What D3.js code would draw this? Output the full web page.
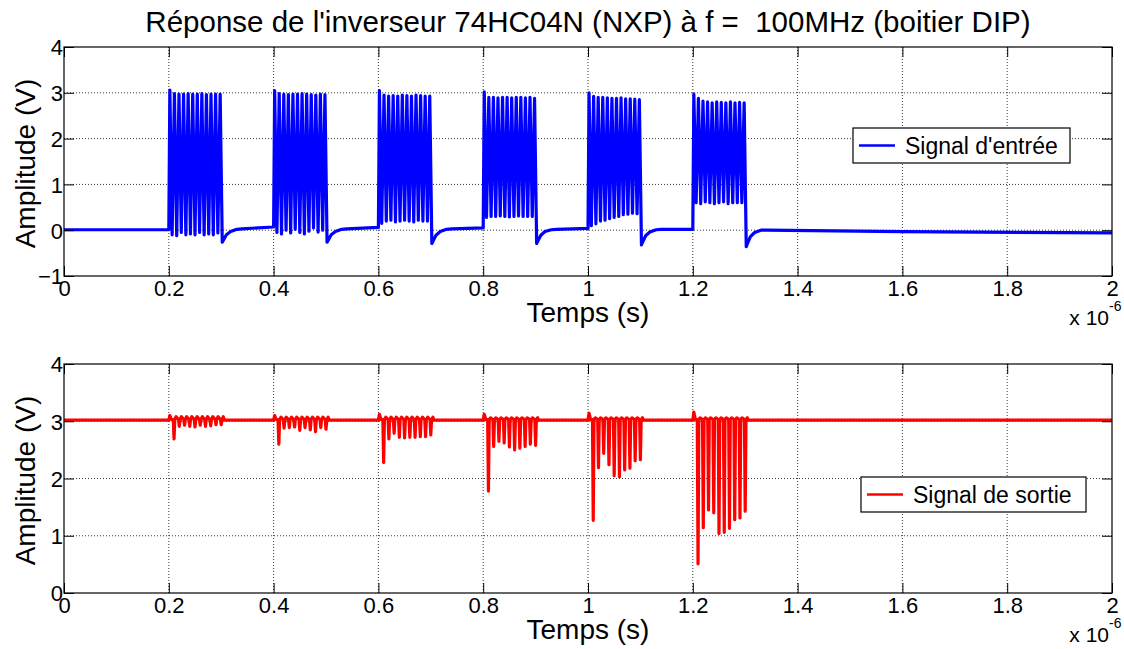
<!DOCTYPE html>
<html><head><meta charset="utf-8">
<script src="https://cdn.jsdelivr.net/npm/d3@7"></script>
<style>
body{margin:0;background:#fff}
svg{display:block}
text{font-family:"Liberation Sans",Arial,Helvetica,sans-serif;fill:#000}
</style>
</head><body>
<svg id="c" width="1124" height="649"></svg>
<script>
// ---------- DATA (time in units of 10^-6 s, amplitude in V) ----------
const titleText = "Réponse de l'inverseur 74HC04N (NXP) à f =  100MHz (boitier DIP)";
const xTickValues = [0, 0.2, 0.4, 0.6, 0.8, 1, 1.2, 1.4, 1.6, 1.8, 2];
const xTickLabels = ["0", "0.2", "0.4", "0.6", "0.8", "1", "1.2", "1.4", "1.6", "1.8", "2"];
const yTicksTop = [-1, 0, 1, 2, 3, 4];
const yTicksBottom = [0, 1, 2, 3, 4];

const burstStarts = [0.2, 0.4, 0.6, 0.8, 1.0, 1.2];
const burstLength = 0.1;

// input signal: peak (high) and trough (low) values inside each burst
const inputHighs = [
  [3.06, 2.98, 2.97, 2.97, 2.98, 2.97, 2.97, 2.98, 2.96, 2.97, 2.97, 2.97],
  [3.05, 2.98, 2.97, 2.96, 2.97, 2.97, 2.98, 2.97, 2.96, 2.95, 2.97, 2.96],
  [3.05, 2.95, 2.93, 2.94, 2.93, 2.95, 2.94, 2.93, 2.95, 2.94, 2.93, 2.93],
  [3.02, 2.90, 2.90, 2.89, 2.90, 2.90, 2.89, 2.90, 2.90, 2.89, 2.90, 2.88],
  [3.00, 2.92, 2.90, 2.90, 2.89, 2.88, 2.88, 2.89, 2.87, 2.87, 2.86, 2.85],
  [2.97, 2.88, 2.82, 2.80, 2.78, 2.80, 2.79, 2.78, 2.80, 2.78, 2.79, 2.78]
];
const inputLows = [
  [-0.10, -0.12, -0.05, -0.10, -0.08, -0.10, -0.05, -0.10, -0.08, -0.10, -0.06],
  [-0.05, -0.08, 0.00, -0.06, 0.02, -0.05, -0.08, -0.02, 0.05, -0.04, 0.00],
  [0.15, 0.20, 0.22, 0.18, 0.20, 0.22, 0.20, 0.18, 0.22, 0.20, 0.20],
  [0.28, 0.30, 0.30, 0.31, 0.30, 0.29, 0.30, 0.31, 0.30, 0.30, 0.30],
  [0.10, 0.14, 0.20, 0.22, 0.25, 0.28, 0.30, 0.34, 0.35, 0.37, 0.36],
  [0.60, 0.58, 0.62, 0.60, 0.58, 0.60, 0.62, 0.58, 0.60, 0.60, 0.60]
];
// undershoot and recovery after each burst end
const tailOffsets = [0.002, 0.005, 0.01, 0.018, 0.03];
const inputTails = [
  [-0.26, -0.20, -0.10, -0.03, 0.02],
  [-0.26, -0.20, -0.10, -0.03, 0.02],
  [-0.29, -0.22, -0.11, -0.03, 0.02],
  [-0.29, -0.22, -0.11, -0.03, 0.01],
  [-0.32, -0.24, -0.12, -0.04, 0.01],
  [-0.36, -0.27, -0.14, -0.05, 0.00]
];
// input baseline between bursts
const inputRestT = [0, 0.2, 0.34, 0.4, 0.54, 0.6, 0.74, 0.8, 0.94, 1.0, 1.14, 1.2, 1.34, 1.6, 2.0];
const inputRestV = [0.01, 0.01, 0.03, 0.07, 0.03, 0.06, 0.03, 0.05, 0.02, 0.04, 0.02, 0.02, 0.0, -0.03, -0.06];

// output signal: dip minima after each input edge
const dipOffsets = [0.01, 0.02, 0.03, 0.04, 0.05, 0.06, 0.07, 0.08, 0.09, 0.10];
const outputDips = [
  [2.69, 2.91, 2.93, 2.91, 2.90, 2.93, 2.91, 2.92, 2.94, 2.94],
  [2.60, 2.88, 2.89, 2.90, 2.84, 2.89, 2.85, 2.82, 2.89, 2.86],
  [2.28, 2.69, 2.79, 2.72, 2.71, 2.72, 2.72, 2.73, 2.73, 2.76],
  [1.78, 2.56, 2.65, 2.62, 2.55, 2.50, 2.53, 2.56, 2.60, 2.58],
  [1.27, 2.19, 2.44, 2.24, 2.05, 2.03, 2.15, 2.18, 2.31, 2.33],
  [0.51, 1.14, 1.45, 1.40, 1.04, 1.06, 1.13, 1.28, 1.31, 1.43]
];
const outputOvershoot = [3.10, 3.10, 3.12, 3.12, 3.14, 3.16];
const outputRipple = [3.08, 3.07, 3.07, 3.06, 3.06, 3.06];
const outputRest = 3.02;

// ---------- BUILD SERIES ----------
const inputSeries = [];
inputRestT.forEach((t, i) => inputSeries.push([t, inputRestV[i]]));
burstStarts.forEach((s, b) => {
  const seq = [];
  inputHighs[b].forEach((h, i) => { seq.push(h); if (i < inputLows[b].length) seq.push(inputLows[b][i]); });
  const step = (burstLength - 0.004) / (seq.length - 1);
  seq.forEach((v, i) => inputSeries.push([s + 0.002 + i * step, v]));
  tailOffsets.forEach((o, i) => inputSeries.push([s + burstLength + o, inputTails[b][i]]));
});
inputSeries.sort((a, b) => a[0] - b[0]);

const outputSeries = [[0, outputRest]];
burstStarts.forEach((s, b) => {
  outputSeries.push([s, outputRest], [s + 0.002, outputOvershoot[b]], [s + 0.005, outputRest + 0.01]);
  dipOffsets.forEach((o, i) => {
    outputSeries.push([s + o - 0.0015, outputRest + 0.01], [s + o, outputDips[b][i]],
      [s + o + 0.0015, outputRest + 0.01], [s + o + 0.004, outputRipple[b]]);
  });
  outputSeries.push([s + burstLength + 0.006, outputRest]);
});
outputSeries.push([2, outputRest]);

// ---------- DRAW ----------
const svg = d3.select("#c");
svg.append("rect").attr("width", 1124).attr("height", 649).attr("fill", "#fff");

svg.append("text").attr("x", 588).attr("y", 32).attr("text-anchor", "middle")
  .style("font-size", "29.5px").style("white-space", "pre").text(titleText);

const panels = [
  { top: 47, bottom: 276, domain: [-1, 4], ticks: yTicksTop, data: inputSeries, color: "#0000ff",
    legend: "Signal d'entrée", lb: { x: 853, y: 128, w: 217, h: 35 } },
  { top: 364, bottom: 593, domain: [0, 4], ticks: yTicksBottom, data: outputSeries, color: "#ff0000",
    legend: "Signal de sortie", lb: { x: 861, y: 477, w: 225, h: 35 } }
];

const L = 64, R = 1112;
panels.forEach(p => {
  const x = d3.scaleLinear().domain([0, 2]).range([L, R]);
  const y = d3.scaleLinear().domain(p.domain).range([p.bottom, p.top]);
  const g = svg.append("g");

  // grid
  g.append("g").selectAll("line").data(xTickValues.slice(1, -1)).join("line")
    .attr("x1", d => x(d)).attr("x2", d => x(d)).attr("y1", p.top).attr("y2", p.bottom)
    .attr("stroke", "#222").attr("stroke-width", 0.9).attr("stroke-dasharray", "1,2");
  g.append("g").selectAll("line").data(p.ticks.slice(1, -1)).join("line")
    .attr("y1", d => y(d)).attr("y2", d => y(d)).attr("x1", L).attr("x2", R)
    .attr("stroke", "#222").attr("stroke-width", 0.9).attr("stroke-dasharray", "1,2");

  // signal
  g.append("path").datum(p.data)
    .attr("d", d3.line().x(d => x(d[0])).y(d => y(d[1])))
    .attr("fill", "none").attr("stroke", p.color).attr("stroke-width", 3.2)
    .attr("stroke-linejoin", "round");

  // axes (ticks inward)
  const fmt = (d) => xTickLabels[xTickValues.indexOf(d)];
  const ax = g.append("g").attr("transform", `translate(0,${p.bottom})`)
    .call(d3.axisBottom(x).tickValues(xTickValues).tickFormat(fmt).tickSizeInner(-10).tickSizeOuter(0).tickPadding(4));
  const axT = g.append("g").attr("transform", `translate(0,${p.top})`)
    .call(d3.axisTop(x).tickValues(xTickValues).tickFormat("").tickSizeInner(-10).tickSizeOuter(0));
  const ay = g.append("g").attr("transform", `translate(${L},0)`)
    .call(d3.axisLeft(y).tickValues(p.ticks).tickFormat(d3.format("d")).tickSizeInner(-10).tickSizeOuter(0).tickPadding(1));
  const ayR = g.append("g").attr("transform", `translate(${R},0)`)
    .call(d3.axisRight(y).tickValues(p.ticks).tickFormat("").tickSizeInner(-10).tickSizeOuter(0));
  [ax, axT, ay, ayR].forEach(a => {
    a.select(".domain").remove();
    a.selectAll("line").attr("stroke", "#000").attr("stroke-width", 1);
    a.selectAll("text").style("font-size", "22px").attr("font-family", null);
  });
  ay.selectAll("text").attr("dy", "0.36em");

  // box
  g.append("rect").attr("x", L).attr("y", p.top).attr("width", R - L).attr("height", p.bottom - p.top)
    .attr("fill", "none").attr("stroke", "#000").attr("stroke-width", 1.2);

  // labels
  g.append("text").attr("x", (L + R) / 2).attr("y", p.bottom + 46).attr("text-anchor", "middle")
    .style("font-size", "28px").text("Temps (s)");
  g.append("text").attr("transform", `translate(35,${(p.top + p.bottom) / 2 + 2}) rotate(-90)`)
    .attr("text-anchor", "middle").style("font-size", "28px").text("Amplitude (V)");
  g.append("text").attr("x", 1109).attr("y", p.bottom + 49).attr("text-anchor", "end")
    .style("font-size", "21px").text("x 10");
  g.append("text").attr("x", 1109).attr("y", p.bottom + 35).attr("text-anchor", "start")
    .style("font-size", "14px").text("-6");

  // legend
  const lg = g.append("g");
  lg.append("rect").attr("x", p.lb.x).attr("y", p.lb.y).attr("width", p.lb.w).attr("height", p.lb.h)
    .attr("fill", "#fff").attr("stroke", "#000").attr("stroke-width", 1.2);
  lg.append("line").attr("x1", p.lb.x + 6).attr("x2", p.lb.x + 42)
    .attr("y1", p.lb.y + p.lb.h / 2).attr("y2", p.lb.y + p.lb.h / 2)
    .attr("stroke", p.color).attr("stroke-width", 2.5);
  lg.append("text").attr("x", p.lb.x + 52).attr("y", p.lb.y + p.lb.h / 2 + 8)
    .style("font-size", "23px").text(p.legend);
});
</script>
</body></html>
